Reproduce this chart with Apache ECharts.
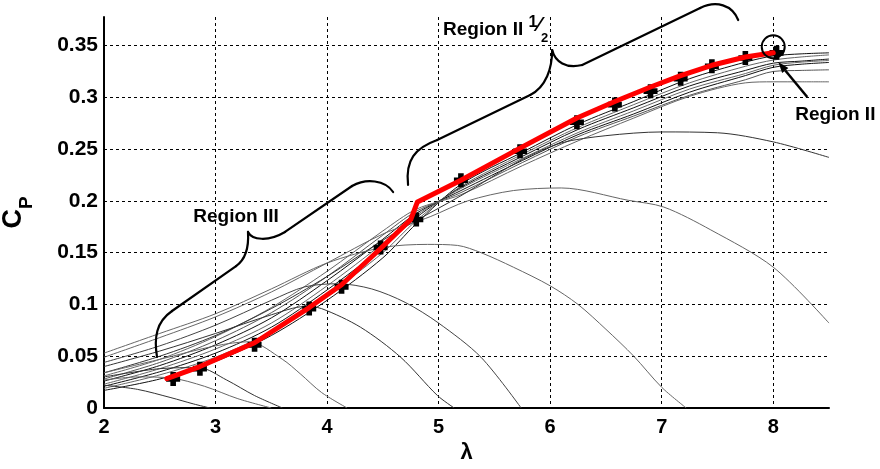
<!DOCTYPE html>
<html><head><meta charset="utf-8">
<script src="https://cdn.jsdelivr.net/npm/echarts@6/dist/echarts.min.js"></script>
<style>html,body{margin:0;padding:0;background:#fff}#c{width:880px;height:469px}</style>
</head><body><div id="c"></div>
<script>
// ---------- axis ticks ----------
const lambdaTicks = [2, 3, 4, 5, 6, 7, 8];
const cpTicks = [0, 0.05, 0.1, 0.15, 0.2, 0.25, 0.3, 0.35];
const lambdaRange = [2, 8.5];
const cpRange = [0, 0.3776];

// ---------- Cp(lambda) family, [lambda, Cp] ----------
const curveU1 = [[2,0.017],[2.5,0.028],[3,0.045],[3.5,0.070],[4,0.104],[4.5,0.145],[4.8,0.178],[5.2,0.216],[5.75,0.247],[6.25,0.274],[6.75,0.296],[7.25,0.318],[7.75,0.334],[8,0.340],[8.25,0.342],[8.5,0.343]];
const curveU2 = [[2,0.019],[2.5,0.032],[3,0.049],[3.5,0.074],[4,0.109],[4.5,0.150],[4.8,0.181],[5.2,0.214],[5.75,0.245],[6.25,0.271],[6.75,0.293],[7.25,0.314],[7.75,0.330],[8,0.336],[8.25,0.339],[8.5,0.341]];
const curveU3 = [[2,0.021],[2.5,0.035],[3,0.053],[3.5,0.078],[4,0.114],[4.5,0.155],[4.8,0.184],[5.2,0.213],[5.75,0.243],[6.25,0.269],[6.75,0.290],[7.25,0.311],[7.75,0.326],[8,0.333],[8.25,0.335],[8.5,0.337]];
const curveU4 = [[2,0.023],[2.5,0.038],[3,0.057],[3.5,0.082],[4,0.118],[4.5,0.159],[4.8,0.186],[5.2,0.212],[5.75,0.241],[6.25,0.266],[6.75,0.287],[7.25,0.308],[7.75,0.323],[8,0.331],[8.25,0.334],[8.5,0.3356]];
const curveU5 = [[2,0.026],[2.5,0.041],[3,0.061],[3.5,0.087],[4,0.123],[4.5,0.163],[4.8,0.188],[5.2,0.210],[5.75,0.239],[6.25,0.264],[6.75,0.284],[7.25,0.305],[7.75,0.321],[8,0.329],[8.25,0.332],[8.5,0.3337]];
const curveU6 = [[2,0.028],[2.5,0.044],[3,0.065],[3.5,0.092],[4,0.127],[4.5,0.167],[4.8,0.190],[5.2,0.208],[5.75,0.237],[6.25,0.262],[6.75,0.282],[7.25,0.302],[7.75,0.317],[8,0.325],[8.25,0.326],[8.5,0.3266]];
const curveU7 = [[2,0.031],[2.5,0.047],[3,0.069],[3.5,0.097],[4,0.132],[4.5,0.171],[4.8,0.192],[5.2,0.206],[5.75,0.234],[6.25,0.258],[6.75,0.280],[7.25,0.301],[7.75,0.314],[8,0.315],[8.25,0.315],[8.5,0.315]];
const curveD8 = [[2,0.034],[2.5,0.050],[3,0.070],[3.5,0.096],[4,0.127],[4.5,0.162],[4.8,0.181],[5.2,0.205],[5.75,0.240],[6.1,0.256],[6.5,0.263],[7,0.2666],[7.5,0.2658],[8,0.257],[8.5,0.242]];
const curveD7 = [[2,0.049],[2.5,0.068],[3,0.088],[3.5,0.112],[4,0.140],[4.5,0.168],[4.93,0.185],[5.26,0.200],[5.67,0.210],[6.1,0.2125],[6.7,0.2006],[7.02,0.194],[7.44,0.172],[8,0.136],[8.5,0.082]];
const curveD6 = [[2,0.053],[2.5,0.072],[3,0.091],[3.5,0.115],[4,0.140],[4.5,0.155],[4.9,0.158],[5.17,0.157],[5.38,0.150],[5.67,0.136],[6,0.118],[6.25,0.100],[6.5,0.076],[6.75,0.050],[7,0.020],[7.22,0]];
const curveD5 = [[2,0.044],[2.5,0.060],[3,0.080],[3.5,0.104],[3.8,0.117],[4.1,0.120],[4.4,0.115],[4.7,0.102],[5,0.082],[5.38,0.049],[5.74,0]];
const curveD4 = [[2,0.040],[2.5,0.055],[3,0.072],[3.5,0.090],[3.8,0.098],[3.95,0.096],[4.3,0.078],[4.66,0.049],[4.99,0.012],[5.14,0]];
const curveD3 = [[2,0.034],[2.5,0.047],[3,0.060],[3.3,0.064],[3.6,0.047],[3.76,0.033],[3.95,0.015],[4.18,0]];
const curveD2b = [[2,0.030],[2.5,0.038],[2.85,0.039],[3.1,0.027],[3.35,0.012],[3.6,0]];
const curveD2 = [[2,0.027],[2.3,0.030],[2.6,0.029],[2.9,0.021],[3.2,0.009],[3.5,0]];
const curveD1 = [[2,0.022],[2.3,0.018],[2.6,0.010],[2.8,0.004],[2.95,0]];

// ---------- controller trajectory & measured points ----------
const trajectory = [[2.563,0.0284],[2.86,0.040],[3.35,0.063],[3.84,0.097],[4.13,0.119],[4.48,0.154],[4.75,0.182],[4.81,0.199],[5.2,0.220],[5.73,0.251],[6.24,0.280],[6.58,0.296],[6.9,0.310],[7.17,0.321],[7.45,0.331],[7.75,0.339],[8.0,0.343]];
const measured = [[2.62,0.028],[2.86,0.038],[3.35,0.061],[3.84,0.096],[4.13,0.117],[4.48,0.155],[4.80,0.182],[5.20,0.220],[5.73,0.248],[6.24,0.276],[6.58,0.293],[6.90,0.306],[7.17,0.318],[7.45,0.330],[7.75,0.338],[8.03,0.343]];

// ---------- annotation anchors (data space) ----------
const braceRegionIII = [['M',[2.475,0.0493]],['C',[2.448,0.0676],[2.466,0.0831],[2.610,0.0937]],['L',[3.184,0.1371]],['C',[3.274,0.1439],[3.300,0.1545],[3.291,0.1700]],['C',[3.327,0.1622],[3.471,0.1603],[3.623,0.1700]],['L',[4.224,0.2144]],['C',[4.350,0.2221],[4.520,0.2202],[4.592,0.2086]]];
const braceRegionII5 = [['M',[4.726,0.2154]],['C',[4.700,0.2395],[4.789,0.2511],[4.987,0.2588]],['L',[5.821,0.3023]],['C',[5.964,0.3100],[6.018,0.3283],[6.018,0.3457]],['C',[6.045,0.3341],[6.143,0.3274],[6.287,0.3312]],['L',[7.345,0.3863]],['C',[7.489,0.3940],[7.632,0.3892],[7.686,0.3747]]];
const circleRegionII = [8.0, 0.3489];
const arrowRegionII = [[8.305,0.3003],[8.045,0.3341]];
const labelRegionIII = [3.184, 0.1844];
const labelRegionII = [8.197, 0.2829];
const labelRegionII5 = [5.040, 0.3650];

const curves = [curveU1,curveU2,curveU3,curveU4,curveU5,curveU6,curveU7,curveD8,curveD7,curveD6,curveD5,curveD4,curveD3,curveD2b,curveD2,curveD1];
const curveColors = ['#111','#666','#111','#666','#111','#555','#666','#333','#666','#666','#444','#333','#666','#333','#666','#333'];

const FONT = 'Arial, "Liberation Sans", Helvetica, sans-serif';
const chart = echarts.init(document.getElementById('c'), null, {renderer: 'canvas'});

const series = curves.map((d, i) => ({
  type: 'line', data: d, showSymbol: false, smooth: 0.3, silent: true, z: 2,
  lineStyle: {width: 1, color: curveColors[i]}
}));
series.push({
  type: 'scatter', data: measured, z: 3, silent: true,
  symbol: 'path://M3,0H7V3H10V7H7V10H3V7H0V3H3Z', symbolSize: 14,
  itemStyle: {color: '#000', opacity: 1}
});
series.push({
  type: 'line', data: trajectory, showSymbol: false, smooth: false, silent: true, z: 4,
  lineStyle: {width: 5, color: '#ff0000', join: 'round', cap: 'round'}
});

const gridLine = {show: true, showMinLine: false, showMaxLine: false, lineStyle: {color: '#000', width: 1, type: [3, 3]}};

chart.setOption({
  animation: false,
  backgroundColor: '#fff',
  grid: {left: 104, right: 51, top: 17, bottom: 61, containLabel: false, outerBoundsMode: 'none'},
  xAxis: {
    type: 'value', min: lambdaRange[0], max: lambdaRange[1], interval: lambdaTicks[1] - lambdaTicks[0],
    axisLine: {show: true, onZero: false, lineStyle: {color: '#000', width: 2}},
    axisTick: {show: false},
    axisLabel: {showMaxLabel: false, color: '#000', fontSize: 20, fontWeight: 'bold', fontFamily: FONT, margin: 9},
    splitLine: gridLine,
    name: 'λ', nameLocation: 'middle', nameGap: 32,
    nameTextStyle: {color: '#000', fontSize: 22, fontWeight: 'bold', fontFamily: FONT}
  },
  yAxis: {
    type: 'value', min: cpRange[0], max: cpRange[1], interval: cpTicks[1] - cpTicks[0],
    axisLine: {show: true, onZero: false, lineStyle: {color: '#000', width: 2}},
    axisTick: {show: false},
    axisLabel: {showMaxLabel: false, color: '#000', fontSize: 21, fontWeight: 'bold', fontFamily: FONT, margin: 6},
    splitLine: gridLine,
    name: '{c|C}{p|P}', nameLocation: 'middle', nameRotate: 90, nameGap: 50,
    nameTextStyle: {
      color: '#000',
      rich: {
        c: {fontSize: 27, fontWeight: 'bold', fontFamily: FONT, color: '#000', lineHeight: 30, verticalAlign: 'top'},
        p: {fontSize: 19, fontWeight: 'bold', fontFamily: FONT, color: '#000', lineHeight: 54, verticalAlign: 'middle'}
      }
    }
  },
  series: series
});

// ---------- annotations ----------
function px(p) { return chart.convertToPixel({gridIndex: 0}, p); }
function braceElements(segs) {
  const out = [];
  let cur = px(segs[0][1]);
  const st = {stroke: '#000', lineWidth: 2.2, fill: 'none', lineCap: 'round'};
  for (let i = 1; i < segs.length; i++) {
    const s = segs[i];
    if (s[0] === 'L') {
      const e = px(s[1]);
      out.push({type: 'line', z: 10, silent: true, shape: {x1: cur[0], y1: cur[1], x2: e[0], y2: e[1]}, style: st});
      cur = e;
    } else {
      const c1 = px(s[1]), c2 = px(s[2]), e = px(s[3]);
      out.push({type: 'bezierCurve', z: 10, silent: true,
        shape: {x1: cur[0], y1: cur[1], cpx1: c1[0], cpy1: c1[1], cpx2: c2[0], cpy2: c2[1], x2: e[0], y2: e[1]}, style: st});
      cur = e;
    }
  }
  return out;
}
const cc = px(circleRegionII);
const a0 = px(arrowRegionII[0]), a1 = px(arrowRegionII[1]);
const dx = a1[0] - a0[0], dy = a1[1] - a0[1], len = Math.hypot(dx, dy);
const ux = dx / len, uy = dy / len, hl = 11, hw = 4;
const headBase = [a1[0] - ux * hl, a1[1] - uy * hl];
const head = [a1, [headBase[0] - uy * hw, headBase[1] + ux * hw], [headBase[0] + uy * hw, headBase[1] - ux * hw]];
const tRIII = px(labelRegionIII), tRII = px(labelRegionII), tRII5 = px(labelRegionII5);
const txt = (x, y, text, align, extra) => ({
  type: 'text', x: x, y: y, z: 10, silent: true,
  style: Object.assign({text: text, fill: '#000', font: 'bold 19px ' + FONT, align: align, verticalAlign: 'middle', textAlign: align, textVerticalAlign: 'middle'}, extra || {})
});
const elems = [].concat(
  braceElements(braceRegionIII),
  braceElements(braceRegionII5),
  [
    {type: 'circle', z: 10, silent: true, shape: {cx: cc[0], cy: cc[1], r: 11.5}, style: {stroke: '#000', lineWidth: 2, fill: 'none'}},
    {type: 'line', z: 10, silent: true, shape: {x1: a0[0], y1: a0[1], x2: headBase[0], y2: headBase[1]}, style: {stroke: '#000', lineWidth: 2.5}},
    {type: 'polygon', z: 10, silent: true, shape: {points: head}, style: {fill: '#000'}},
    txt(tRIII[0], tRIII[1], 'Region III', 'center'),
    txt(tRII[0], tRII[1], 'Region II', 'left'),
    txt(tRII5[0], tRII5[1], '{r|Region II }{o|1}{s|⁄}{t|2}', 'left', {
      rich: {
        r: {font: 'bold 19px ' + FONT, lineHeight: 30, verticalAlign: 'middle'},
        o: {font: 'bold 16px ' + FONT, lineHeight: 14, verticalAlign: 'top'},
        s: {font: 'bold 21px ' + FONT, lineHeight: 22, verticalAlign: 'top'},
        t: {font: 'bold 13px ' + FONT, lineHeight: 24, verticalAlign: 'bottom'}
      }
    })
  ]
);
chart.setOption({graphic: elems});
</script>
</body></html>
